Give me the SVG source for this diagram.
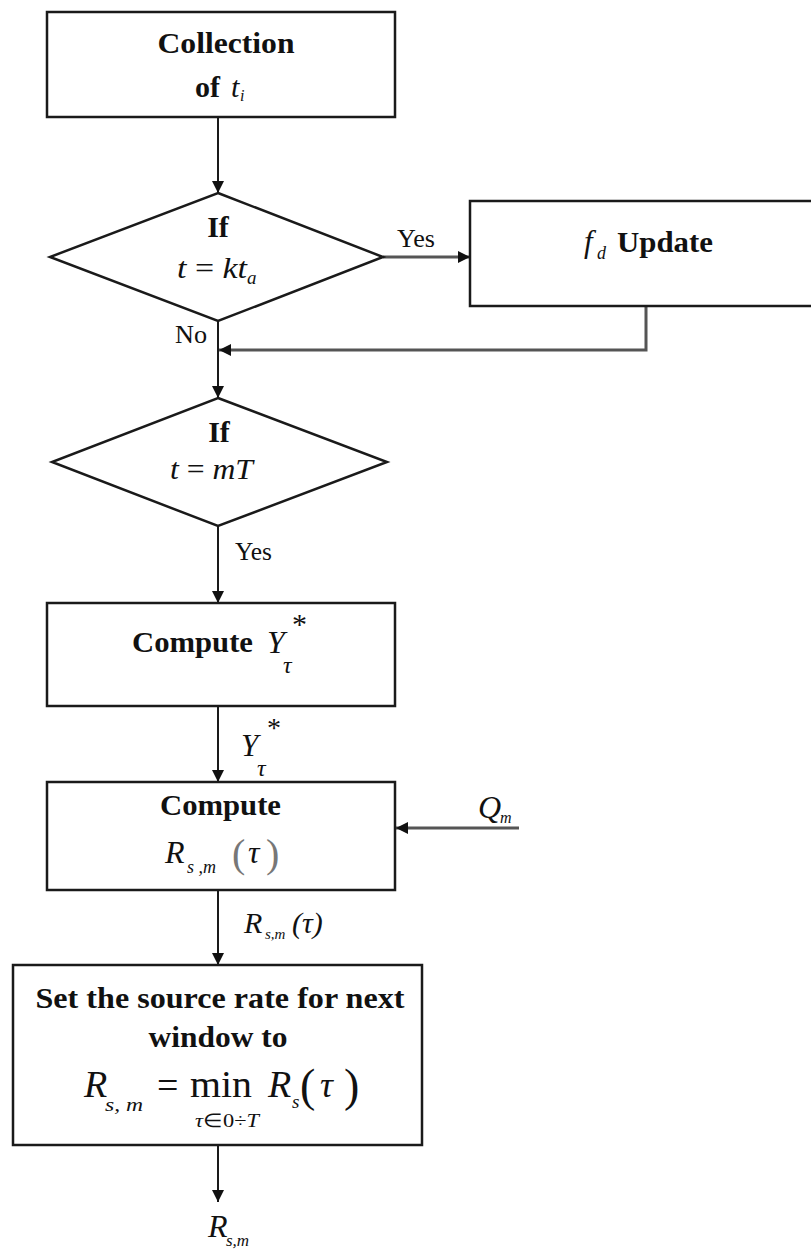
<svg xmlns="http://www.w3.org/2000/svg" width="811" height="1252" viewBox="0 0 811 1252">
  <style>
    .box { fill: #fff; stroke: #1a1a1a; stroke-width: 2.5; }
    .ln { fill: none; stroke: #1a1a1a; stroke-width: 2; }
    .ln-g { fill: none; stroke: #555; stroke-width: 3; }
    .t { font-family: "Liberation Serif", "Times New Roman", serif; fill: #111; }
    .b { font-weight: bold; font-size: 30px; }
    .r { font-size: 25px; }
    .i { font-style: italic; }
    .paren { fill: #777; }
  </style>
  <defs>
    <marker id="ah" viewBox="0 0 10 10" refX="10" refY="5" markerWidth="13" markerHeight="12" markerUnits="userSpaceOnUse" orient="auto">
      <path d="M0,0 L10,5 L0,10 Z" fill="#111"/>
    </marker>
  </defs>

  <rect width="811" height="1252" fill="#fff"/>

  <!-- connectors -->
  <g id="connectors">
    <line class="ln" x1="218" y1="117" x2="218" y2="193" marker-end="url(#ah)"/>
    <line class="ln-g" x1="383" y1="257" x2="470" y2="257" marker-end="url(#ah)"/>
    <polyline class="ln-g" points="646,306 646,350 219,350" marker-end="url(#ah)"/>
    <line class="ln" x1="218" y1="321" x2="218" y2="398" marker-end="url(#ah)"/>
    <line class="ln" x1="218" y1="526" x2="218" y2="603" marker-end="url(#ah)"/>
    <line class="ln" x1="218" y1="706" x2="218" y2="782" marker-end="url(#ah)"/>
    <line class="ln-g" x1="519" y1="828" x2="396" y2="828" marker-end="url(#ah)"/>
    <line class="ln" x1="218" y1="890" x2="218" y2="965" marker-end="url(#ah)"/>
    <line class="ln" x1="218" y1="1145" x2="218" y2="1202" marker-end="url(#ah)"/>

    <!-- edge labels -->
    <text class="t r" x="397" y="247" textLength="38" lengthAdjust="spacingAndGlyphs">Yes</text>
    <text class="t r" x="175" y="343" textLength="32" lengthAdjust="spacingAndGlyphs">No</text>
    <text class="t r" x="235" y="560" textLength="37" lengthAdjust="spacingAndGlyphs">Yes</text>
    <g class="t i">
      <text x="241" y="756" font-size="31">Y</text>
      <text x="267" y="737" font-size="28" font-style="normal">*</text>
      <text x="257" y="776" font-size="24">τ</text>
    </g>
    <g class="t i">
      <text x="478" y="818" font-size="32">Q</text>
      <text x="500" y="823" font-size="16">m</text>
    </g>
    <g class="t i">
      <text x="244" y="933" font-size="30">R</text>
      <text x="265" y="939" font-size="15">s,m</text>
      <text x="292" y="933" font-size="30">(τ)</text>
    </g>
    <g class="t i">
      <text x="208" y="1237" font-size="32">R</text>
      <text x="226" y="1246" font-size="17">s,m</text>
    </g>
  </g>

  <!-- Collection of t_i -->
  <g id="collect">
    <rect class="box" x="47" y="12" width="348" height="105"/>
    <text class="t b" x="226" y="53" text-anchor="middle" textLength="137" lengthAdjust="spacingAndGlyphs">Collection</text>
    <text class="t b" x="195" y="97">of<tspan class="i" font-weight="normal" x="231">t</tspan><tspan class="i" font-weight="normal" font-size="16" x="240" y="101">i</tspan></text>
  </g>

  <!-- decision: t = k t_a -->
  <g id="dec1">
    <polygon class="box" points="218,193 383,257 218,321 50,257"/>
    <text class="t b" x="218" y="237" text-anchor="middle">If</text>
    <text class="t i" x="177" y="278" font-size="30" textLength="70" lengthAdjust="spacingAndGlyphs">t<tspan font-style="normal"> = </tspan>kt</text>
    <text class="t i" x="247" y="284" font-size="19">a</text>
  </g>

  <!-- f_d update -->
  <g id="update">
    <rect class="box" x="470" y="201" width="345" height="105"/>
    <text class="t i" x="584" y="252" font-size="31">f</text>
    <text class="t i" x="597" y="259" font-size="18">d</text>
    <text class="t b" x="617" y="252" textLength="96" lengthAdjust="spacingAndGlyphs">Update</text>
  </g>

  <!-- decision: t = mT -->
  <g id="dec2">
    <polygon class="box" points="218,398 387,462 218,526 52,462"/>
    <text class="t b" x="219" y="442" text-anchor="middle">If</text>
    <text class="t i" x="170" y="479" font-size="30" textLength="83" lengthAdjust="spacingAndGlyphs">t<tspan font-style="normal"> = </tspan>mT</text>
  </g>

  <!-- compute Y* -->
  <g id="computeY">
    <rect class="box" x="47" y="603" width="348" height="103"/>
    <text class="t b" x="132" y="652" textLength="121" lengthAdjust="spacingAndGlyphs">Compute</text>
    <text class="t i" x="267" y="653" font-size="32">Y</text>
    <text class="t" x="292" y="634" font-size="30">*</text>
    <text class="t i" x="283" y="673" font-size="24">τ</text>
  </g>

  <!-- compute R_s,m(tau) -->
  <g id="computeR">
    <rect class="box" x="47" y="782" width="348" height="108"/>
    <text class="t b" x="160" y="815" textLength="121" lengthAdjust="spacingAndGlyphs">Compute</text>
    <text class="t i" x="165" y="863" font-size="32">R</text>
    <text class="t i" x="187" y="873" font-size="18">s ,m</text>
    <text class="t paren" x="232" y="867" font-size="40">(</text>
    <text class="t i" x="248" y="863" font-size="32">τ</text>
    <text class="t paren" x="266" y="867" font-size="40">)</text>
  </g>

  <!-- set source rate -->
  <g id="setRate">
    <rect class="box" x="13" y="965" width="409" height="180"/>
    <text class="t b" x="220" y="1008" text-anchor="middle" textLength="369" lengthAdjust="spacingAndGlyphs">Set the source rate for next</text>
    <text class="t b" x="218" y="1047" text-anchor="middle" textLength="139" lengthAdjust="spacingAndGlyphs">window to</text>
    <text class="t i" x="84" y="1097" font-size="38">R</text>
    <text class="t i" x="105" y="1111" font-size="19" textLength="38" lengthAdjust="spacingAndGlyphs">s, m</text>
    <text class="t" x="157" y="1098" font-size="38">=</text>
    <text class="t" x="190" y="1097" font-size="38" textLength="62" lengthAdjust="spacingAndGlyphs">min</text>
    <text class="t i" x="195" y="1127" font-size="19" textLength="64" lengthAdjust="spacingAndGlyphs">τ<tspan font-style="normal">∈0÷</tspan>T</text>
    <text class="t i" x="268" y="1097" font-size="38">R</text>
    <text class="t i" x="292" y="1108" font-size="19">s</text>
    <text class="t" x="300" y="1101" font-size="46">(</text>
    <text class="t i" x="320" y="1097" font-size="36">τ</text>
    <text class="t" x="344" y="1101" font-size="46">)</text>
  </g>
</svg>
